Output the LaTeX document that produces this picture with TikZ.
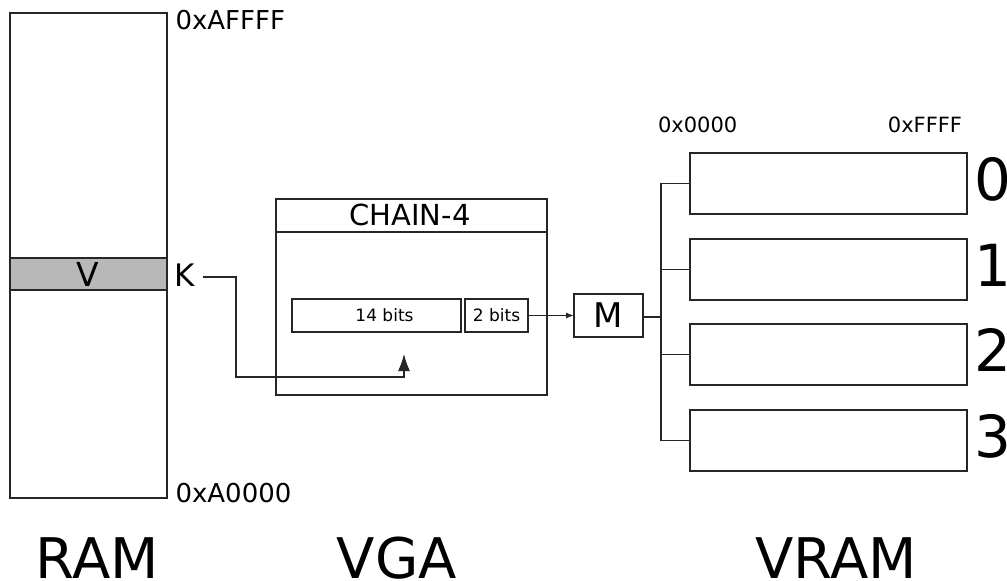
\documentclass[tikz,border=0pt]{standalone}
\usepackage{fontspec}
\setmainfont{DejaVu Sans}
\usetikzlibrary{arrows.meta}
\begin{document}
\begin{tikzpicture}[x=1pt,y=-1pt,
  box/.style={draw=black!85, line width=1.2pt, inner sep=0pt, outer sep=0pt, anchor=north west},
  wire/.style={draw=black!85, line width=1.2pt},
  lbl/.style={inner sep=0pt, outer sep=0pt},
  fs/.style={font=\fontsize{#1}{#1}\selectfont}
]
\useasboundingbox (0,0) rectangle (1007,581);
% RAM
\node[box, minimum width=157pt, minimum height=485pt] (ram) at (10,13) {};
\node[box, fill={rgb,255:red,184;green,184;blue,184}, minimum width=157pt, minimum height=32pt] (v) at (10,258) {};
\node[lbl, fs=33, anchor=base] (vt) at (88,286) {V};
\node[lbl, fs=26, anchor=base west] (hi) at (175.5,29) {0xAFFFF};
\node[lbl, fs=26, anchor=base west] (lo) at (175.5,502) {0xA0000};
\node[lbl, fs=31, anchor=base west] (k) at (174,286) {K};
% VGA
\node[box, minimum width=271pt, minimum height=196pt] (chain) at (276,199) {};
\node[box, minimum width=271pt, minimum height=33pt] (head) at (276,199) {};
\node[lbl, fs=29, anchor=base] (ht) at (410,225) {CHAIN-4};
\node[box, minimum width=169pt, minimum height=33pt] (b14) at (292,299) {};
\node[lbl, fs=17] (t14) at ([xshift=8pt]b14.center) {14 bits};
\node[box, minimum width=63pt, minimum height=33pt] (b2) at (465,299) {};
\node[lbl, fs=17] (t2) at (b2.center) {2 bits};
\node[box, minimum width=69pt, minimum height=43pt] (m) at (574,294) {};
\node[lbl, fs=34] (mt) at (m.center) {M};
\coordinate (kout) at (203,277);
\coordinate (tip) at (404,354);
\draw[wire, -{Latex[length=17pt,width=12pt]}] (kout) -| (236,377) -- (404,377) -- (tip);
\draw[wire, -{Latex[length=8pt,width=6pt]}] (b2.east |- m.west) -- (m.west);
% VRAM
\node[lbl, fs=21, anchor=base west] (z0) at (658,132) {0x0000};
\node[lbl, fs=21, anchor=base east] (zf) at (962,132) {0xFFFF};
\foreach \i/\t in {0/153,1/239,2/324,3/410}{
  \node[box, minimum width=277pt, minimum height=61pt] (r\i) at (690,\t) {};
  \node[lbl, fs=58, anchor=base west] (d\i) at (974,\t+47) {\i};
}
\coordinate (bus) at (661,317);
\draw[wire] (m.east |- bus) -- (bus);
\draw[wire] (r0.west) -- (r0.west -| bus) -- (r3.west -| bus) -- (r3.west);
\draw[wire] (r1.west -| bus) -- (r1.west);
\draw[wire] (r2.west -| bus) -- (r2.west);
% titles
\node[lbl, fs=56, anchor=base] (tram) at (97,578) {RAM};
\node[lbl, fs=56, anchor=base] (tvga) at (397,578) {VGA};
\node[lbl, fs=56, anchor=base] (tvram) at (836,578) {VRAM};
\end{tikzpicture}
\end{document}
